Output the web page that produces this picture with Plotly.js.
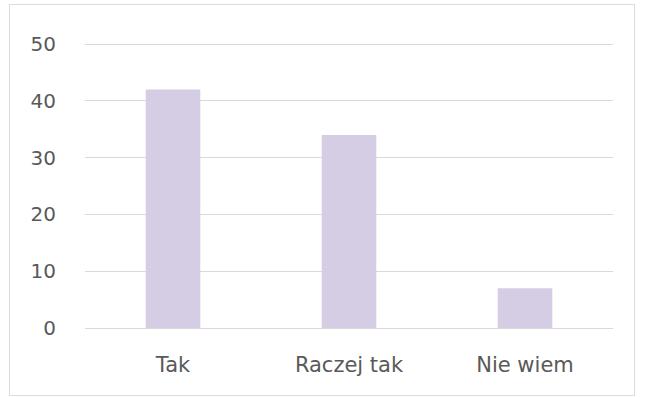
<!DOCTYPE html>
<html>
<head>
<meta charset="utf-8">
<script src="https://cdn.plot.ly/plotly-3.0.1.min.js"></script>
<style>
html, body { margin: 0; padding: 0; background: #fff; }
#frame { position: absolute; left: 9px; top: 4px; width: 626px; height: 392px; border: 1px solid #dcdcdc; box-sizing: border-box; }
#chart { position: absolute; left: 0; top: 0; width: 645px; height: 397px; }
</style>
</head>
<body>
<div id="frame"></div>
<div id="chart"></div>
<script>
const categories = ["Tak", "Raczej tak", "Nie wiem"];
const values = [42, 34, 7];
const yTicks = [0, 10, 20, 30, 40, 50];

Plotly.newPlot("chart", [{
  type: "bar",
  x: categories,
  y: values,
  marker: { color: "#d5cde3" },
  hoverinfo: "x+y"
}], {
  width: 645,
  height: 397,
  margin: { l: 85, r: 32, t: 43, b: 69 },
  paper_bgcolor: "rgba(0,0,0,0)",
  plot_bgcolor: "rgba(0,0,0,0)",
  bargap: 0.69,
  showlegend: false,
  font: { family: "DejaVu Sans, sans-serif", color: "#595959" },
  xaxis: {
    showgrid: false,
    showline: true,
    linecolor: "#d9d9d9",
    linewidth: 1,
    ticks: "",
    tickfont: { size: 21, color: "#595959" },
    ticklabelstandoff: 18
  },
  yaxis: {
    range: [0, 50.2],
    tickvals: yTicks,
    showgrid: true,
    gridcolor: "#d9d9d9",
    gridwidth: 1,
    zeroline: false,
    showline: false,
    ticks: "",
    tickfont: { size: 20, color: "#595959" },
    ticklabelstandoff: 28
  }
}, { displayModeBar: false, staticPlot: true });
</script>
</body>
</html>
